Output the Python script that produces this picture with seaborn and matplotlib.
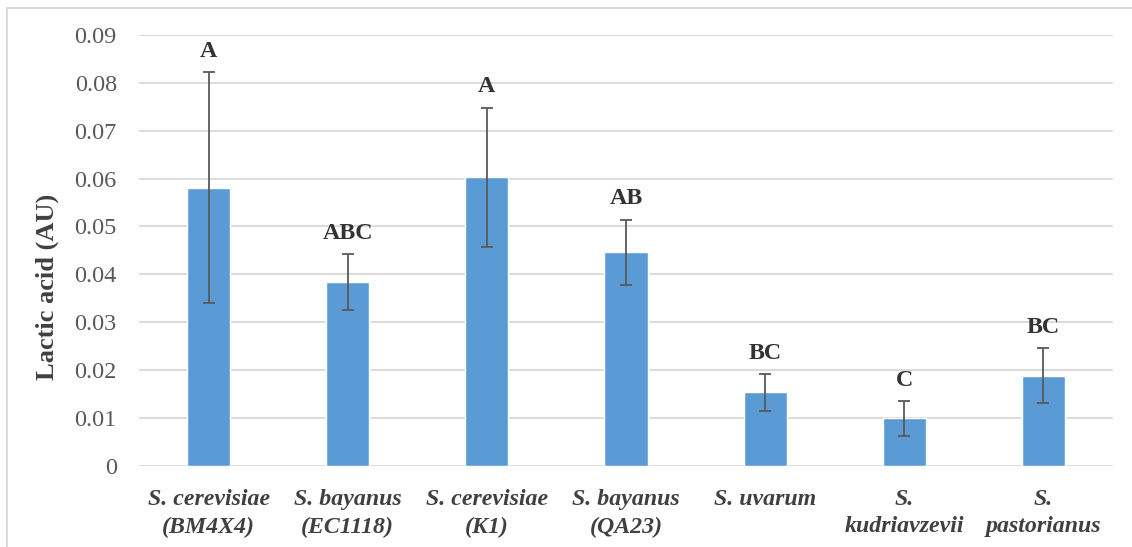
import matplotlib
matplotlib.use("Agg")
import matplotlib.pyplot as plt
import pandas as pd
import seaborn as sns

# ─────────────────────────────────────────────────
# Data
# ─────────────────────────────────────────────────
strains = ["S. cerevisiae\n(BM4X4)", "S. bayanus\n(EC1118)", "S. cerevisiae\n(K1)",
           "S. bayanus\n(QA23)", "S. uvarum", "S.\nkudriavzevii", "S.\npastorianus"]
lactic = [0.0581, 0.0384, 0.0603, 0.0446, 0.0153, 0.0099, 0.0188]
sd = [0.0241, 0.0058, 0.0145, 0.0068, 0.0038, 0.0036, 0.0057]
groups = ["A", "ABC", "A", "AB", "BC", "C", "BC"]
yticks = [0, 0.01, 0.02, 0.03, 0.04, 0.05, 0.06, 0.07, 0.08, 0.09]
ytick_labels = ["0", "0.01", "0.02", "0.03", "0.04", "0.05", "0.06", "0.07", "0.08", "0.09"]

df = pd.DataFrame({"strain": strains, "lactic": lactic, "sd": sd})

sns.set_theme(style="white")
plt.rcParams["font.family"] = ["Liberation Serif", "DejaVu Serif"]

fig = plt.figure(figsize=(11.32, 5.47), dpi=100)
ax = fig.add_axes([0.1228, 0.1486, 0.8604, 0.7874])

sns.barplot(data=df, x="strain", y="lactic", color="#5B9BD5", saturation=1,
            width=0.31, errorbar=None, ax=ax)
ax.errorbar(range(len(df)), df["lactic"], yerr=df["sd"], fmt="none",
            ecolor="#595959", elinewidth=1.3, capsize=4, capthick=1.3)

for i, (v, e, g) in enumerate(zip(lactic, sd, groups)):
    ax.annotate(g, (i, v + e), xytext=(0, 7.5), textcoords="offset points",
                ha="center", va="bottom", fontsize=17.3, fontweight="bold",
                color="#333333")

ax.set_ylim(0, 0.09)
ax.set_xlim(-0.5, len(df) - 0.5)
ax.set_yticks(yticks)
ax.set_yticklabels(ytick_labels)
ax.yaxis.grid(True, color="#D9D9D9", linewidth=1.3)
ax.set_axisbelow(True)
for s in ax.spines.values():
    s.set_visible(False)
ax.tick_params(axis="y", length=0, pad=16, labelsize=17.5, labelcolor="#595959")
ax.tick_params(axis="x", length=0, pad=16.5, labelsize=17.2, labelcolor="#404040")
for lab in ax.get_xticklabels():
    lab.set_fontstyle("italic")
    lab.set_fontweight("bold")
    lab.set_linespacing(1.42)

ax.set_xlabel("")
ax.set_ylabel("Lactic acid (AU)", fontsize=19, fontweight="bold", color="#404040")
ax.yaxis.set_label_coords(-0.082, 0.416)

# light frame around the chart (top and left edges visible)
fig.add_artist(plt.Line2D([7 / 1132, 7 / 1132], [0, 1 - 8 / 547],
                          color="#D9D9D9", linewidth=1.3))
fig.add_artist(plt.Line2D([7 / 1132, 1], [1 - 8 / 547, 1 - 8 / 547],
                          color="#D9D9D9", linewidth=1.3))

plt.savefig("out.png", dpi=100)
plt.close()
